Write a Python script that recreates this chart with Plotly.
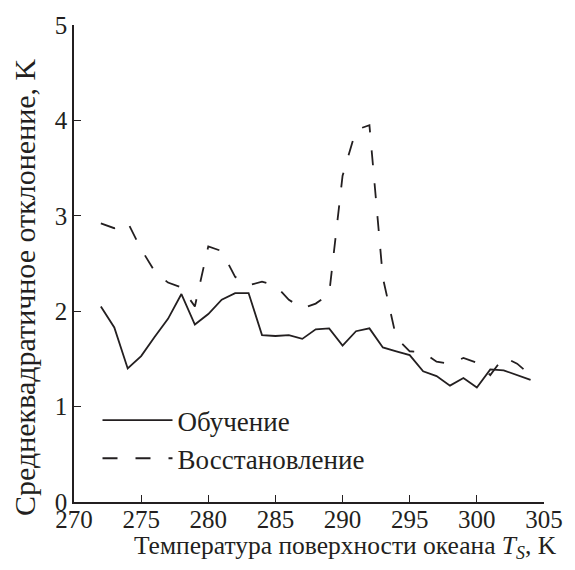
import plotly.graph_objects as go

temps = list(range(272, 305))
training = [2.05, 1.83, 1.40, 1.53, 1.73, 1.92, 2.18, 1.86, 1.97, 2.12, 2.19,
            2.19, 1.75, 1.74, 1.75, 1.71, 1.81, 1.82, 1.64, 1.79, 1.82, 1.62,
            1.58, 1.54, 1.37, 1.32, 1.22, 1.30, 1.20, 1.39, 1.38, 1.33, 1.28]
restoration = [2.92, 2.87, 2.93, 2.65, 2.42, 2.30, 2.25, 2.05, 2.68, 2.63, 2.36,
               2.27, 2.31, 2.27, 2.12, 2.03, 2.08, 2.18, 3.42, 3.90, 3.95, 2.35,
               1.72, 1.58, 1.57, 1.47, 1.45, 1.51, 1.46, 1.33, 1.52, 1.45, 1.33]
series_names = ["Обучение", "Восстановление"]
x_ticks = [270, 275, 280, 285, 290, 295, 300, 305]
y_ticks = [0, 1, 2, 3, 4, 5]
x_title = "Температура поверхности океана <i>T</i><sub><i>S</i></sub>, K"
y_title = "Среднеквадратичное отклонение, K"

FONT = "'Liberation Serif', 'Times New Roman', 'DejaVu Serif', serif"
INK = "#231f20"
fig = go.Figure()
fig.add_trace(go.Scatter(x=temps, y=training, mode="lines", name=series_names[0],
                         legendgroup="a",
                         line=dict(color=INK, width=1.8)))
fig.add_trace(go.Scatter(x=temps, y=restoration, mode="lines", name=series_names[1],
                         legendgroup="b",
                         line=dict(color=INK, width=1.8, dash="15px,18px")))

fig.update_layout(
    width=575, height=570,
    margin=dict(l=74, r=26, t=23, b=68),
    paper_bgcolor="white", plot_bgcolor="white",
    font=dict(family=FONT, size=25, color=INK),
    legend=dict(x=0.05, y=0.222, xanchor="left", yanchor="top",
                bgcolor="rgba(0,0,0,0)", traceorder="grouped",
                tracegroupgap=0, itemwidth=70,
                font=dict(family=FONT, size=27)),
    xaxis=dict(range=[270, 305], tickvals=x_ticks, ticks="inside", ticklen=7,
               tickwidth=1.3, tickcolor=INK, ticklabelstandoff=-6,
               showline=True, linecolor=INK, linewidth=1.5,
               showgrid=False, zeroline=False,
               tickfont=dict(family=FONT, size=25)),
    yaxis=dict(range=[0, 5], tickvals=y_ticks, ticks="inside", ticklen=7,
               tickwidth=1.3, tickcolor=INK,
               showline=True, linecolor=INK, linewidth=1.5,
               showgrid=False, zeroline=False,
               tickfont=dict(family=FONT, size=25)),
    annotations=[
        dict(text=x_title, xref="paper", yref="paper", x=1.032, y=-0.094,
             xanchor="right", yanchor="middle", showarrow=False,
             font=dict(family=FONT, size=25.5, color=INK)),
        dict(text=y_title, xref="paper", yref="paper", x=-0.105, y=0.45,
             xanchor="center", yanchor="middle", textangle=-90, showarrow=False,
             font=dict(family=FONT, size=30, color=INK)),
    ],
)

fig.write_html("out.html")
